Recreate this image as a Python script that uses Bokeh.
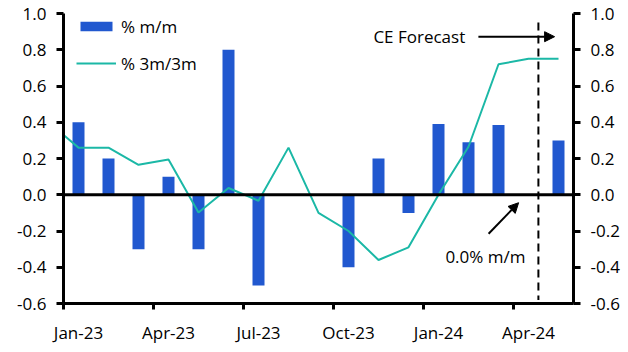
from bokeh.plotting import figure
from bokeh.models import (Range1d, LinearAxis, FixedTicker, NumeralTickFormatter,
                          Span, Label, Arrow, NormalHead)
from bokeh.embed import file_html
from bokeh.resources import INLINE

# ---- data ----
months = ["Jan-23", "Feb-23", "Mar-23", "Apr-23", "May-23", "Jun-23", "Jul-23",
          "Aug-23", "Sep-23", "Oct-23", "Nov-23", "Dec-23", "Jan-24", "Feb-24",
          "Mar-24", "Apr-24", "May-24"]
mm = [0.40, 0.20, -0.30, 0.10, -0.30, 0.80, -0.50, 0.00, 0.00, -0.40, 0.20,
      -0.10, 0.39, 0.29, 0.385, 0.00, 0.30]
# 3m/3m line, starting with Dec-22 (partly visible at the left edge)
line_months = ["Dec-22"] + months
m3m3 = [0.40, 0.26, 0.26, 0.165, 0.195, -0.098, 0.037, -0.033, 0.26, -0.10,
        -0.20, -0.36, -0.29, 0.00, 0.265, 0.72, 0.75, 0.75]
tick_labels = ["Jan-23", "Apr-23", "Jul-23", "Oct-23", "Jan-24", "Apr-24"]
y_ticks = [-0.6, -0.4, -0.2, 0.0, 0.2, 0.4, 0.6, 0.8, 1.0]

BLUE = "#2158CF"
TEAL = "#1BB8A6"
FONT = "Open Sans"
FS = "17px"

xb = [i + 0.5 for i in range(len(months))]
xl = [i - 0.5 for i in range(len(line_months))]

p = figure(width=628, height=352, output_backend="svg", toolbar_location=None,
           x_range=Range1d(0, len(months)), y_range=Range1d(-0.6, 1.0),
           min_border_left=63, min_border_right=55, min_border_top=13,
           min_border_bottom=49)
p.outline_line_color = None
p.xgrid.grid_line_color = None
p.ygrid.grid_line_color = None
p.background_fill_color = "white"
p.border_fill_color = "white"

p.vbar(x=xb, top=mm, width=0.4, fill_color=BLUE, line_color=None,
       legend_label="% m/m")
p.line(x=xl, y=m3m3, line_color=TEAL, line_width=2, legend_label="% 3m/3m")

# zero line
p.add_layout(Span(location=0, dimension="width", line_color="black", line_width=3))

# forecast divider
p.segment(x0=[15.83], y0=[0.95], x1=[15.83], y1=[-0.58], line_color="black",
          line_width=2, line_dash="8 5")

# x axis
xa = p.xaxis[0]
xa.ticker = FixedTicker(ticks=[i * 3 + 0.5 for i in range(len(tick_labels))],
                        minor_ticks=[i * 3 for i in range(len(tick_labels))])
xa.major_label_overrides = {i * 3 + 0.5: t for i, t in enumerate(tick_labels)}
xa.major_tick_out = 0
xa.major_tick_in = 0
xa.minor_tick_out = 6
xa.minor_tick_in = 0
xa.minor_tick_line_width = 3
xa.minor_tick_line_color = "black"
xa.axis_line_width = 3
xa.axis_line_color = "black"
xa.major_label_text_font = FONT
xa.major_label_text_font_size = FS
xa.major_label_text_color = "black"
xa.major_label_standoff = 11

# y axes
def style_y(ax):
    ax.ticker = FixedTicker(ticks=y_ticks)
    ax.formatter = NumeralTickFormatter(format="0.0")
    ax.major_tick_out = 7
    ax.major_tick_in = 0
    ax.minor_tick_out = 0
    ax.minor_tick_in = 0
    ax.major_tick_line_width = 3
    ax.axis_line_width = 3
    ax.axis_line_color = "black"
    ax.major_label_text_font = FONT
    ax.major_label_text_font_size = FS
    ax.major_label_text_color = "black"
    ax.major_label_standoff = 10

style_y(p.yaxis[0])
ra = LinearAxis()
style_y(ra)
p.add_layout(ra, "right")

# legend
lg = p.legend[0]
lg.location = (13, 228)
lg.border_line_color = None
lg.background_fill_alpha = 0
lg.margin = 0
lg.padding = 0
lg.glyph_width = 40
lg.glyph_height = 12
lg.label_height = 24
lg.spacing = 13
lg.label_standoff = 5
lg.label_text_font = FONT
lg.label_text_font_size = FS
lg.label_text_color = "black"

# annotations
p.add_layout(Label(x=10.33, y=0.872, text="CE Forecast", text_font=FONT,
                   text_font_size=FS, text_baseline="middle", text_color="black"))
p.add_layout(Arrow(x_start=13.83, y_start=0.872, x_end=16.37, y_end=0.872,
                   line_width=2, line_color="black",
                   end=NormalHead(size=10, fill_color="black", line_color="black")))
p.add_layout(Label(x=12.73, y=-0.342, text="0.0% m/m", text_font=FONT,
                   text_font_size=FS, text_baseline="middle", text_color="black"))
p.add_layout(Arrow(x_start=14.17, y_start=-0.215, x_end=15.17, y_end=-0.044,
                   line_width=2, line_color="black",
                   end=NormalHead(size=10, fill_color="black", line_color="black")))

open("out.html", "w").write(file_html(p, INLINE))
